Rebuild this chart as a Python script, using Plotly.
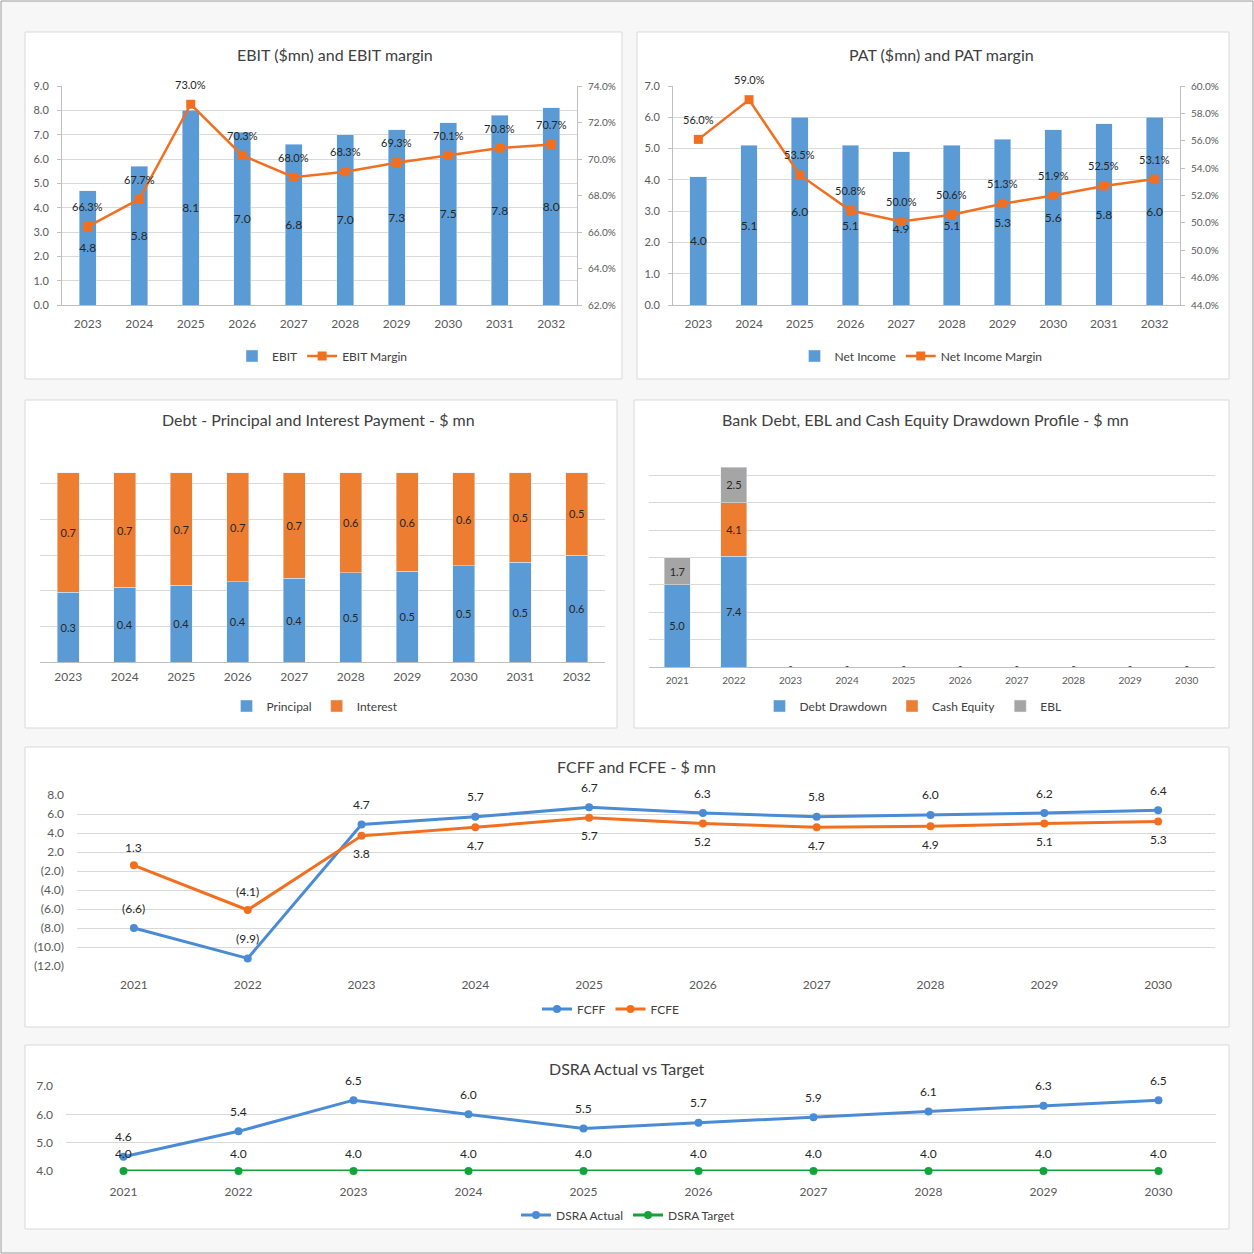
import plotly.graph_objects as go

# page is 1254 px square, everything placed in paper coords from pixel positions
W = 1254.0

years_a = ["2023", "2024", "2025", "2026", "2027", "2028", "2029", "2030", "2031", "2032"]
years_b = ["2021", "2022", "2023", "2024", "2025", "2026", "2027", "2028", "2029", "2030"]

# EBIT ($mn) and EBIT margin
ebit = [4.7, 5.7, 8.0, 7.1, 6.6, 7.0, 7.2, 7.5, 7.8, 8.1]
ebit_text = ["4.8", "5.8", "8.1", "7.0", "6.8", "7.0", "7.3", "7.5", "7.8", "8.0"]
ebit_margin = [66.3, 67.8, 73.0, 70.2, 69.0, 69.3, 69.8, 70.2, 70.6, 70.8]
ebit_margin_text = ["66.3%", "67.7%", "73.0%", "70.3%", "68.0%", "68.3%", "69.3%", "70.1%", "70.8%", "70.7%"]

# PAT ($mn) and PAT margin
net_income = [4.1, 5.1, 6.0, 5.1, 4.9, 5.1, 5.3, 5.6, 5.8, 6.0]
net_income_text = ["4.0", "5.1", "6.0", "5.1", "4.9", "5.1", "5.3", "5.6", "5.8", "6.0"]
pat_margin = [56.1, 59.0, 53.5, 50.9, 50.1, 50.6, 51.4, 52.0, 52.7, 53.2]
pat_margin_text = ["56.0%", "59.0%", "53.5%", "50.8%", "50.0%", "50.6%", "51.3%", "51.9%", "52.5%", "53.1%"]
pat_margin_ticks = ["44.0%", "46.0%", "50.0%", "50.0%", "52.0%", "54.0%", "56.0%", "58.0%", "60.0%"]

# Debt - principal and interest
principal = [0.39, 0.42, 0.43, 0.45, 0.47, 0.50, 0.51, 0.54, 0.56, 0.60]
interest = [0.67, 0.64, 0.63, 0.61, 0.59, 0.56, 0.55, 0.52, 0.50, 0.46]
principal_text = ["0.3", "0.4", "0.4", "0.4", "0.4", "0.5", "0.5", "0.5", "0.5", "0.6"]
interest_text = ["0.7", "0.7", "0.7", "0.7", "0.7", "0.6", "0.6", "0.6", "0.5", "0.5"]

# drawdown profile
debt_drawdown = [6.0, 8.1, 0, 0, 0, 0, 0, 0, 0, 0]
cash_equity = [0, 3.9, 0, 0, 0, 0, 0, 0, 0, 0]
ebl = [2.0, 2.6, 0, 0, 0, 0, 0, 0, 0, 0]
debt_drawdown_text = ["5.0", "7.4", "", "", "", "", "", "", "", ""]
cash_equity_text = ["", "4.1", "", "", "", "", "", "", "", ""]
ebl_text = ["1.7", "2.5", "", "", "", "", "", "", "", ""]

# FCFF / FCFE
fcff = [-6.0, -9.2, 4.9, 5.7, 6.7, 6.1, 5.7, 5.9, 6.1, 6.4]
fcff_text = ["(6.6)", "(9.9)", "4.7", "5.7", "6.7", "6.3", "5.8", "6.0", "6.2", "6.4"]
fcfe = [0.6, -4.1, 3.7, 4.6, 5.6, 5.0, 4.6, 4.7, 5.0, 5.2]
fcfe_text = ["1.3", "(4.1)", "3.8", "4.7", "5.7", "5.2", "4.7", "4.9", "5.1", "5.3"]
fcf_ticks = ["(12.0)", "(10.0)", "(8.0)", "(6.0)", "(4.0)", "(2.0)", "2.0", "4.0", "6.0", "8.0"]

# DSRA
dsra_actual = [4.5, 5.4, 6.5, 6.0, 5.5, 5.7, 5.9, 6.1, 6.3, 6.5]
dsra_actual_text = ["4.6", "5.4", "6.5", "6.0", "5.5", "5.7", "5.9", "6.1", "6.3", "6.5"]
dsra_target = [4.0, 4.0, 4.0, 4.0, 4.0, 4.0, 4.0, 4.0, 4.0, 4.0]

FONT = "Lato, 'Open Sans', sans-serif"
BLUE = "#5B9BD5"
ORANGE = "#ED7D31"
GRAY = "#A5A5A5"
LBLUE = "#4A8BD6"
LORANGE = "#F26F1F"
GREEN = "#14A33A"
GRID = "#D9D9D9"
TXT = "#404040"


def fx(p):
    return p / W


def fy(p):
    return 1 - p / W


fig = go.Figure()

# ---- panel 1
fig.add_trace(go.Bar(x=years_a, y=ebit, name="EBIT", marker_color=BLUE, width=0.33,
                     text=ebit_text, textposition="inside", insidetextanchor="middle",
                     textangle=0, constraintext="none", textfont=dict(size=12, color="#262626"),
                     xaxis="x", yaxis="y", legend="legend"))
fig.add_trace(go.Scatter(x=years_a, y=ebit_margin, name="EBIT Margin", mode="lines+markers",
                         line=dict(color=LORANGE, width=2.5), marker=dict(symbol="square", size=9),
                         cliponaxis=False, xaxis="x", yaxis="y2", legend="legend"))

# ---- panel 2
fig.add_trace(go.Bar(x=years_a, y=net_income, name="Net Income", marker_color=BLUE, width=0.33,
                     text=net_income_text, textposition="inside", insidetextanchor="middle",
                     textangle=0, constraintext="none", textfont=dict(size=12, color="#262626"),
                     xaxis="x2", yaxis="y3", legend="legend2"))
fig.add_trace(go.Scatter(x=years_a, y=pat_margin, name="Net Income Margin", mode="lines+markers",
                         line=dict(color=LORANGE, width=2.5), marker=dict(symbol="square", size=9),
                         cliponaxis=False, xaxis="x2", yaxis="y4", legend="legend2"))

# ---- panel 3
fig.add_trace(go.Bar(x=years_a, y=principal, name="Principal", marker_color=BLUE, width=0.39,
                     text=principal_text, textposition="inside", insidetextanchor="middle",
                     textangle=0, constraintext="none", textfont=dict(size=11, color="#262626"),
                     xaxis="x3", yaxis="y5", legend="legend3"))
fig.add_trace(go.Bar(x=years_a, y=interest, name="Interest", marker_color=ORANGE, width=0.39,
                     text=interest_text, textposition="inside", insidetextanchor="middle",
                     textangle=0, constraintext="none", textfont=dict(size=11, color="#262626"),
                     xaxis="x3", yaxis="y5", legend="legend3"))

# ---- panel 4
for vals, txt, nm, col in [(debt_drawdown, debt_drawdown_text, "Debt Drawdown", BLUE),
                           (cash_equity, cash_equity_text, "Cash Equity", ORANGE),
                           (ebl, ebl_text, "EBL", GRAY)]:
    fig.add_trace(go.Bar(x=years_b, y=vals, name=nm, marker_color=col, width=0.46,
                         text=txt, textposition="inside", insidetextanchor="middle",
                         textangle=0, constraintext="none", textfont=dict(size=11, color="#262626"),
                         xaxis="x4", yaxis="y6", legend="legend4"))
zero_years = [yr for yr, a, b, c in zip(years_b, debt_drawdown, cash_equity, ebl) if a + b + c == 0]
fig.add_trace(go.Scatter(x=zero_years, y=[0] * len(zero_years), mode="text", text="-",
                         textfont=dict(size=11, color="#404040"), showlegend=False,
                         cliponaxis=False, xaxis="x4", yaxis="y6"))

# ---- panel 5
fig.add_trace(go.Scatter(x=years_b, y=fcff, name="FCFF", mode="lines+markers",
                         line=dict(color=LBLUE, width=3), marker=dict(size=8),
                         cliponaxis=False, xaxis="x5", yaxis="y7", legend="legend5"))
fig.add_trace(go.Scatter(x=years_b, y=fcfe, name="FCFE", mode="lines+markers",
                         line=dict(color=LORANGE, width=3), marker=dict(size=8),
                         cliponaxis=False, xaxis="x5", yaxis="y7", legend="legend5"))

# ---- panel 6
fig.add_trace(go.Scatter(x=years_b, y=dsra_actual, name="DSRA Actual", mode="lines+markers",
                         line=dict(color=LBLUE, width=3), marker=dict(size=8),
                         cliponaxis=False, xaxis="x6", yaxis="y8", legend="legend6"))
fig.add_trace(go.Scatter(x=years_b, y=dsra_target, name="DSRA Target", mode="lines+markers",
                         line=dict(color=GREEN, width=3), marker=dict(size=8),
                         cliponaxis=False, xaxis="x6", yaxis="y8", legend="legend6"))


def labels(ys, texts, xref, yref, shifts, size=12):
    # x given as category index so numeric-looking years are not read as numbers
    out = []
    for i, (y, t, s) in enumerate(zip(ys, texts, shifts)):
        out.append(dict(x=i, y=y, text=t, xref=xref, yref=yref, yshift=s, showarrow=False,
                        font=dict(size=size, color="#262626", family=FONT)))
    return out


annots = []
annots += labels(ebit_margin, ebit_margin_text, "x", "y2", [20] * 10, 11)
annots += labels(pat_margin, pat_margin_text, "x2", "y4", [20] * 10, 11)
annots += labels(fcff, fcff_text, "x5", "y7", [20] * 10, 12)
annots += labels(fcfe, fcfe_text, "x5", "y7", [-18 if v > 2 else 18 for v in fcfe], 12)
annots += labels(dsra_actual, dsra_actual_text, "x6", "y8", [20] * 10, 12)
annots += labels(dsra_target, ["4.0"] * 10, "x6", "y8", [18] * 10, 12)

titles = [("EBIT ($mn) and EBIT margin", 335, 54),
          ("PAT ($mn) and PAT margin", 941, 54),
          ("Debt - Principal and Interest Payment - $ mn", 318, 420),
          ("Bank Debt, EBL and Cash Equity Drawdown Profile - $ mn", 925, 420),
          ("FCFF and FCFE - $ mn", 636, 767),
          ("DSRA Actual vs Target", 627, 1068)]
for t, x, y in titles:
    annots.append(dict(text=t, x=fx(x), y=fy(y), xref="paper", yref="paper", showarrow=False,
                       xanchor="center", yanchor="middle", font=dict(size=16, color=TXT, family=FONT)))

# panel boxes
panels = [(25, 32, 622, 379), (637, 32, 1229, 379), (25, 400, 617, 728),
          (634, 400, 1229, 728), (25, 747, 1229, 1027), (25, 1045, 1229, 1229)]
shapes = [dict(type="rect", xref="paper", yref="paper", x0=fx(1), x1=fx(1253), y0=fy(1253), y1=fy(1),
               line=dict(color="#9A9A9A", width=1), fillcolor="#F7F7F7", layer="below")]
for x0, y0, x1, y1 in panels:
    shapes.append(dict(type="rect", xref="paper", yref="paper", x0=fx(x0), x1=fx(x1), y0=fy(y1), y1=fy(y0),
                       line=dict(color="#D9D9D9", width=1), fillcolor="white", layer="below"))

tickfont = dict(size=12, color="#595959", family=FONT)
midfont = dict(size=11, color="#595959", family=FONT)
smallfont = dict(size=10, color="#595959", family=FONT)


def xax(left, right, anchor, **kw):
    d = dict(domain=[fx(left), fx(right)], anchor=anchor, type="category", range=[-0.5, 9.5],
             showgrid=False, showline=True, linecolor="#BFBFBF", ticks="", tickfont=tickfont,
             ticklabelstandoff=8, fixedrange=True)
    d.update(kw)
    return d


def yax(top, bottom, anchor, **kw):
    d = dict(domain=[fy(bottom), fy(top)], anchor=anchor, showgrid=True, gridcolor=GRID,
             zeroline=False, tickfont=smallfont, fixedrange=True)
    d.update(kw)
    return d


def legend(cx, cy):
    return dict(x=fx(cx), y=fy(cy), xanchor="center", yanchor="middle", orientation="h",
                traceorder="normal", bgcolor="rgba(0,0,0,0)", font=dict(size=12, color=TXT, family=FONT),
                itemwidth=30, tracegroupgap=0)


fig.update_layout(
    width=1254, height=1254, margin=dict(l=0, r=0, t=0, b=0, pad=0, autoexpand=False),
    paper_bgcolor="white", plot_bgcolor="rgba(0,0,0,0)",
    font=dict(family=FONT, color=TXT),
    barmode="stack",
    shapes=shapes, annotations=annots,
    xaxis=xax(62, 577, "y"),
    yaxis=yax(86, 305, "x", range=[0, 9], dtick=1, tickformat=".1f", showline=True, tickfont=midfont,
              linecolor="#BFBFBF", ticks="outside", ticklen=4, tickcolor="#BFBFBF", ticklabelstandoff=6),
    yaxis2=dict(overlaying="y", side="right", anchor="x", range=[62, 74],
                tickvals=[62, 64, 66, 68, 70, 72, 74],
                ticktext=["62.0%", "64.0%", "66.0%", "68.0%", "70.0%", "72.0%", "74.0%"],
                showgrid=False, showline=True, linecolor="#BFBFBF", ticks="outside", ticklen=4,
                tickcolor="#BFBFBF", tickfont=smallfont, ticklabelstandoff=4, fixedrange=True),
    xaxis2=xax(673, 1180, "y3"),
    yaxis3=yax(86, 305, "x2", range=[0, 7], dtick=1, tickformat=".1f", showline=True, tickfont=midfont,
               linecolor="#BFBFBF", ticks="outside", ticklen=4, tickcolor="#BFBFBF", ticklabelstandoff=6),
    yaxis4=dict(overlaying="y3", side="right", anchor="x2", range=[44, 60],
                tickvals=[44, 46, 48, 50, 52, 54, 56, 58, 60], ticktext=pat_margin_ticks,
                showgrid=False, showline=True, linecolor="#BFBFBF", ticks="outside", ticklen=4,
                tickcolor="#BFBFBF", tickfont=smallfont, ticklabelstandoff=4, fixedrange=True),
    xaxis3=xax(40, 605, "y5", ticklabelstandoff=4),
    yaxis5=yax(448, 662, "x3", range=[0, 1.2], dtick=0.2, showticklabels=False),
    xaxis4=xax(649, 1215, "y6", ticklabelstandoff=4, tickfont=smallfont),
    yaxis6=yax(448, 667, "x4", range=[0, 16], dtick=2, showticklabels=False),
    xaxis5=xax(77, 1215, "y7", showline=False, ticklabelstandoff=10),
    yaxis7=yax(795, 966, "x5", range=[-10, 8], tickvals=list(range(-10, 9, 2)), ticktext=fcf_ticks,
               tickfont=tickfont, ticklabelstandoff=12),
    xaxis6=xax(66, 1216, "y8", showline=False, ticklabelstandoff=12),
    yaxis8=yax(1086, 1171, "x6", range=[4, 7], dtick=1, tickformat=".1f", tickfont=tickfont,
               ticklabelstandoff=12),
    legend=legend(322, 356),
    legend2=legend(921, 356),
    legend3=legend(315, 706),
    legend4=legend(913, 706),
    legend5=legend(611, 1009),
    legend6=legend(628, 1215),
    showlegend=True,
)

# drop the browser's default page margin so the figure sits at the window corner
fig.write_html("out.html", config={"displayModeBar": False},
               post_script="document.body.style.margin='0';")
